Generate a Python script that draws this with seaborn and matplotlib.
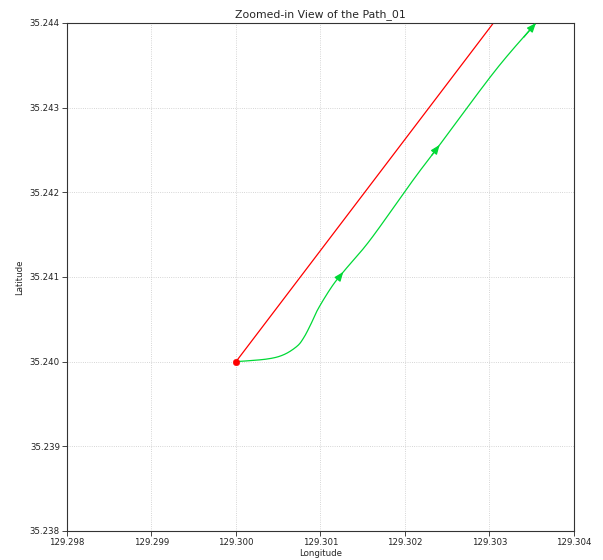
import matplotlib
matplotlib.use("Agg")
import matplotlib.pyplot as plt
import seaborn as sns
import numpy as np
import pandas as pd

sns.set_style("white")
plt.rcParams['font.family'] = ['DejaVu Sans']

title = "Zoomed-in View of the Path_01"
xlim = (129.298, 129.304)
ylim = (35.238, 35.244)
xticks = [129.298, 129.299, 129.300, 129.301, 129.302, 129.303, 129.304]
yticks = [35.238, 35.239, 35.240, 35.241, 35.242, 35.243, 35.244]

# straight (red) reference path
red_lon = [129.30000, 129.30310]
red_lat = [35.24000, 35.24407]

# actual (green) path
green_lon = [129.30000, 129.30036, 129.30056, 129.30072, 129.30080, 129.30088,
             129.30097, 129.30113, 129.30127, 129.30159, 129.30210,
             129.30241, 129.30307, 129.30355, 129.30365]
green_lat = [35.24000, 35.24003, 35.24008, 35.24018, 35.24028, 35.24043,
             35.24062, 35.24088, 35.24106, 35.24144, 35.24215,
             35.24256, 35.24344, 35.24400, 35.24412]

# arrow positions (tip index) on the green path
arrow_idx = [8, 11, 13]

start_lon = [129.30000]
start_lat = [35.24000]

green = "#00d936"


def catmull_rom(xs, ys, n=30):
    p = np.column_stack([xs, ys])
    p = np.vstack([p[0], p, p[-1]])
    out = []
    for i in range(1, len(p) - 2):
        p0, p1, p2, p3 = p[i - 1], p[i], p[i + 1], p[i + 2]
        s = np.linspace(0, 1, n, endpoint=False)[:, None]
        pts = 0.5 * ((2 * p1) + (-p0 + p2) * s + (2 * p0 - 5 * p1 + 4 * p2 - p3) * s ** 2
                     + (-p0 + 3 * p1 - 3 * p2 + p3) * s ** 3)
        out.append(pts)
    out.append(p[-2][None, :])
    out = np.vstack(out)
    return out[:, 0], out[:, 1]


fig = plt.figure(figsize=(6.03, 5.60), dpi=100)
ax = fig.add_axes([0.1111, 0.0518, 0.8408, 0.9072])

sns.lineplot(x=red_lon, y=red_lat, sort=False, color="red", linewidth=0.9, ax=ax)

sx, sy = catmull_rom(green_lon, green_lat)
sns.lineplot(x=sx, y=sy, sort=False, color=green, linewidth=0.9, ax=ax)

for i in arrow_idx:
    dx = green_lon[i] - green_lon[i - 1]
    dy = green_lat[i] - green_lat[i - 1]
    ann = ax.annotate("", xy=(green_lon[i], green_lat[i]),
                      xytext=(green_lon[i] - dx * 0.3, green_lat[i] - dy * 0.3),
                      arrowprops=dict(arrowstyle="-|>,head_length=0.55,head_width=0.22",
                                      color=green, lw=0.9, shrinkA=0, shrinkB=0))
    ann.arrow_patch.set_clip_box(ax.bbox)
    ann.arrow_patch.set_clip_on(True)

sns.scatterplot(x=start_lon, y=start_lat, color="red", s=22, edgecolor="red", zorder=5, ax=ax)

ax.set_xlim(*xlim)
ax.set_ylim(*ylim)
ax.set_xticks(xticks)
ax.set_yticks(yticks)
ax.set_xticklabels([f"{v:.3f}" for v in xticks])
ax.set_yticklabels([f"{v:.3f}" for v in yticks])
ax.tick_params(labelsize=6.2, length=3.6, width=0.6, direction="out", bottom=True, left=True,
               pad=1.5, labelcolor="#222222")
ax.grid(True, linestyle=":", color="#c8c8c8", linewidth=0.6)
for s in ax.spines.values():
    s.set_color("#333333")
    s.set_linewidth(0.8)
ax.set_xlabel("Longitude", fontsize=6.2, labelpad=1.5)
ax.set_ylabel("Latitude", fontsize=6.2, labelpad=4)
ax.set_title(title, fontsize=7.8, pad=4)

fig.savefig("out.png", dpi=100)
